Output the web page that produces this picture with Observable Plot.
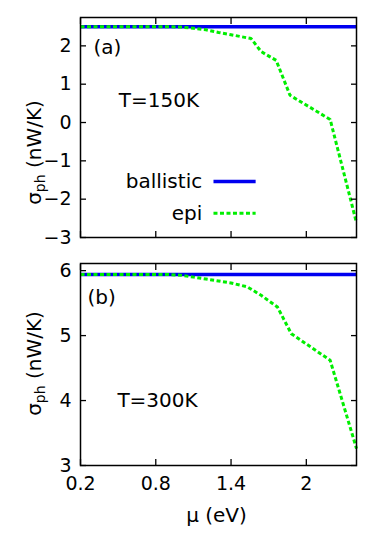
<!DOCTYPE html>
<html><head><meta charset="utf-8">
<script src="https://cdn.jsdelivr.net/npm/d3@7"></script>
<script src="https://cdn.jsdelivr.net/npm/@observablehq/plot@0.6"></script>
<style>
html,body{margin:0;padding:0;background:#fff;}
#wrap{position:relative;width:382px;height:533px;overflow:hidden;}
#top,#bot{position:absolute;left:0;}
#top{top:0;} #bot{top:250px;}
</style></head><body><div id="wrap"><div id="top"></div><div id="bot"></div></div>
<script>
// ---- data ----
const muTicks = [0.2, 0.8, 1.4, 2];
const yTicksA = [-3, -2, -1, 0, 1, 2];
const yTicksB = [3, 4, 5, 6];
const muRange = [0.2, 2.4];
const ballistic150 = [2.5, 2.5];
const ballistic300 = [5.94, 5.94];
const mu150 = [0.2, 0.9, 1.0, 1.1, 1.2, 1.3, 1.4, 1.56, 1.64, 1.76, 1.87, 2.19, 2.35, 2.4];
const epi150 = [2.5, 2.5, 2.49, 2.46, 2.42, 2.35, 2.29, 2.19, 1.85, 1.62, 0.71, 0.08, -1.97, -2.62];
const mu300 = [0.2, 0.9, 1.0, 1.1, 1.2, 1.3, 1.4, 1.53, 1.64, 1.77, 1.88, 2.19, 2.4];
const epi300 = [5.94, 5.94, 5.93, 5.9, 5.87, 5.84, 5.81, 5.75, 5.62, 5.44, 5.03, 4.62, 3.26];
const seriesNames = ["ballistic", "epi"];
const panelTags = ["(a)", "(b)"];
const tempLabels = ["T=150K", "T=300K"];
const yLabel = "σph (nW/K)";
const xLabel = "μ (eV)";
// annotation anchors in data units
const tagAnchorsA = {mu: 0.304, s: 1.95};
const tagAnchorsB = {mu: 0.256, s: 5.58};
const tempAnchorA = {mu: 0.505, s: 0.57};
const tempAnchorB = {mu: 0.494, s: 4.0};
const legendTextMu = 1.17;
const legendLineMu = [1.264, 1.6];
const legendS = [-1.54, -2.37];

const BLUE = "#0000f0", GREEN = "#00ee00", FONT = "DejaVu Sans, sans-serif", FS = 20, TFS = 19;
const DASH = "4,2.5";
const fmt = d => (d < 0 ? "\u2212" + (-d) : String(d));

function panel(o) {
  const ball = muRange.map((m, i) => ({mu: m, s: o.ball[i]}));
  const epi = o.mu.map((m, i) => ({mu: m, s: o.epi[i]}));
  const marks = [
    Plot.line(ball, {x: "mu", y: "s", stroke: BLUE, strokeWidth: 3.5, strokeLinecap: "butt"}),
    Plot.line(epi, {x: "mu", y: "s", stroke: GREEN, strokeWidth: 3, strokeDasharray: DASH, strokeLinecap: "butt", strokeLinejoin: "miter"}),
    Plot.frame({stroke: "black", strokeWidth: 1.5}),
    Plot.axisY(o.yTicks, {anchor: "left", tickSize: -6, fill: "none", stroke: "black", strokeWidth: 1.3, label: null}),
    Plot.axisY(o.yTicks, {anchor: "right", tickSize: -6, fill: "none", stroke: "black", strokeWidth: 1.3, label: null}),
    Plot.axisY(o.yTicks, {anchor: "left", tickSize: 0, tickPadding: 9, stroke: "none", fill: "black", label: null, tickFormat: fmt, fontSize: TFS}),
    Plot.axisX(muTicks, {anchor: "bottom", tickSize: -6, fill: "none", stroke: "black", strokeWidth: 1.3, label: null}),
    Plot.axisX(muTicks, {anchor: "top", tickSize: -6, fill: "none", stroke: "black", strokeWidth: 1.3, label: null}),
    Plot.text([o.tag], {x: o.tagAnchor.mu, y: o.tagAnchor.s, text: d => d, textAnchor: "start", lineAnchor: "middle", fill: "black", fontSize: FS}),
    Plot.text([o.temp], {x: o.tempAnchor.mu, y: o.tempAnchor.s, text: d => d, textAnchor: "start", lineAnchor: "middle", fill: "black", fontSize: FS}),
    Plot.text([yLabel], {frameAnchor: "left", dx: -46, dy: o.ylabelDy, rotate: -90, text: d => d, textAnchor: "middle", lineAnchor: "middle", fill: "black", fontSize: FS})
  ];
  if (o.legend) {
    const rows = seriesNames.map((n, i) => ({name: n, s: legendS[i], x1: legendLineMu[0], x2: legendLineMu[1]}));
    marks.push(
      Plot.text(rows, {x: () => legendTextMu, y: "s", text: "name", textAnchor: "end", lineAnchor: "middle", fill: "black", fontSize: FS}),
      Plot.ruleY(rows.slice(0, 1), {y: "s", x1: "x1", x2: "x2", stroke: BLUE, strokeWidth: 3.5}),
      Plot.ruleY(rows.slice(1, 2), {y: "s", x1: "x1", x2: "x2", stroke: GREEN, strokeWidth: 3, strokeDasharray: DASH})
    );
  }
  if (o.showX) {
    marks.push(
      Plot.axisX(muTicks, {anchor: "bottom", tickSize: 0, tickPadding: 11, stroke: "none", fill: "black", label: null, tickFormat: fmt, fontSize: TFS}),
      Plot.text([xLabel], {frameAnchor: "bottom", dx: -2, dy: 56, text: d => d, lineAnchor: "bottom", fill: "black", fontSize: FS})
    );
  }
  const svg = Plot.plot({
    width: 382, height: o.height,
    marginLeft: 80, marginRight: 26, marginTop: o.marginTop, marginBottom: o.marginBottom,
    style: {fontFamily: FONT, fontSize: FS + "px", color: "black", background: "white", overflow: "visible"},
    x: {domain: muRange},
    y: {domain: o.yDomain},
    marks
  });
  // subscript for sigma_ph
  svg.querySelectorAll("text").forEach(t => {
    if (t.textContent === yLabel) {
      const ns = "http://www.w3.org/2000/svg";
      t.textContent = "";
      t.appendChild(document.createTextNode("σ"));
      const sub = document.createElementNS(ns, "tspan");
      sub.setAttribute("dy", "4"); sub.setAttribute("font-size", "14px"); sub.textContent = "ph";
      const rest = document.createElementNS(ns, "tspan");
      rest.setAttribute("dy", "-4"); rest.textContent = " (nW/K)";
      t.appendChild(sub); t.appendChild(rest);
    }
  });
  return svg;
}

document.getElementById("top").appendChild(panel({
  mu: mu150, epi: epi150, ball: ballistic150, yDomain: [-3, 2.74], yTicks: yTicksA,
  tag: panelTags[0], temp: tempLabels[0], tagAnchor: tagAnchorsA, tempAnchor: tempAnchorA,
  legend: true, showX: false, height: 250, marginTop: 17, marginBottom: 13, ylabelDy: 25
}));
document.getElementById("bot").appendChild(panel({
  mu: mu300, epi: epi300, ball: ballistic300, yDomain: [3, 6.11], yTicks: yTicksB,
  tag: panelTags[1], temp: tempLabels[1], tagAnchor: tagAnchorsB, tempAnchor: tempAnchorB,
  legend: false, showX: true, height: 283, marginTop: 13, marginBottom: 68, ylabelDy: -1
}));
</script></body></html>
